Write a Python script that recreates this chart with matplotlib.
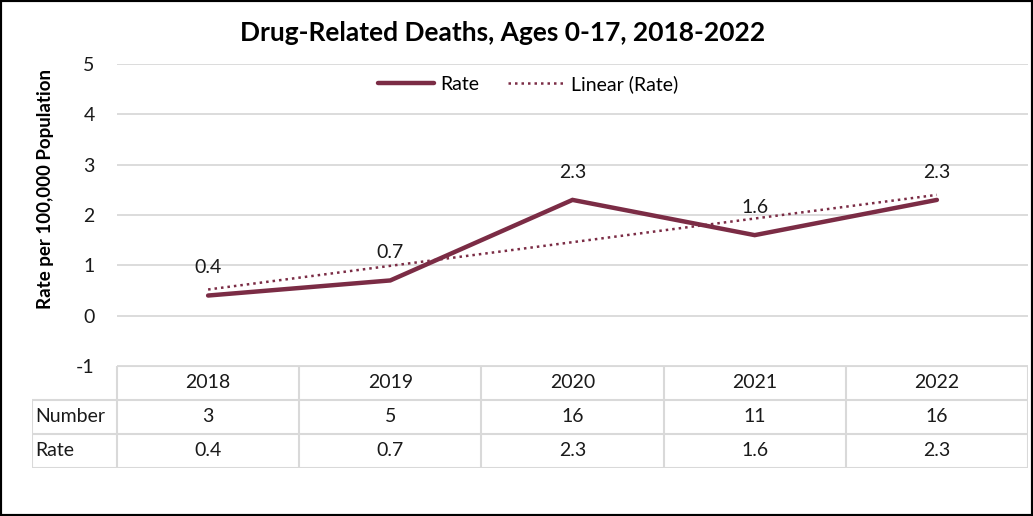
import matplotlib.pyplot as plt
import numpy as np
from matplotlib.patches import Rectangle

plt.rcParams['font.family'] = ['Lato', 'DejaVu Sans']
plt.rcParams['axes.unicode_minus'] = False

years = ['2018', '2019', '2020', '2021', '2022']
number = [3, 5, 16, 11, 16]
rate = [0.4, 0.7, 2.3, 1.6, 2.3]
row_names = ['Number', 'Rate']

maroon = '#7B2C45'
grid_c = '#D9D9D9'
txt_c = '#1a1a1a'
fs = 14

W, H = 1033, 516
fig = plt.figure(figsize=(W / 100, H / 100), dpi=100)

# plot area in pixels
L, R, T, B = 117, 1028, 64, 366
ax = fig.add_axes([L / W, 1 - B / H, (R - L) / W, (B - T) / H])

x = np.arange(len(years))
ax.plot(x, rate, color=maroon, lw=3.2, solid_capstyle='round',
        solid_joinstyle='miter', label='Rate', zorder=3)
k, b = np.polyfit(x, rate, 1)
ax.plot(x, k * x + b, color=maroon, lw=1.8, ls=(0, (1, 1.6)),
        label='Linear (Rate)', zorder=2)

for xi, v in zip(x, rate):
    ax.annotate(f'{v}', (xi, v), xytext=(0, 20), textcoords='offset points',
                ha='center', va='center', fontsize=fs, color=txt_c)

ax.set_xlim(-0.5, len(years) - 0.5)
ax.set_ylim(-1, 5)
ax.set_yticks(range(-1, 6))
ax.set_xticks([])
ax.grid(axis='y', color=grid_c, lw=1.3)
ax.set_axisbelow(True)
for s in ax.spines.values():
    s.set_visible(False)
ax.tick_params(axis='y', length=0, pad=16, labelsize=fs, labelcolor=txt_c)
ax.set_ylabel('Rate per 100,000 Population', fontsize=13.5, fontweight='bold')
ax.yaxis.set_label_coords((54 - L) / (R - L), (B - 189) / (B - T))

ax.legend(loc='center', bbox_to_anchor=(0.451, 0.934), ncol=2,
          frameon=False, fontsize=fs, handlelength=2.9, columnspacing=1.5,
          handletextpad=0.3)

fig.text(503 / W, 1 - 33 / H, 'Drug-Related Deaths, Ages 0-17, 2018-2022',
         ha='center', va='center', fontsize=19, fontweight='bold')

# data table under the plot
TL, TB = 32, 468
unit = (R - L) / len(years)
tax = fig.add_axes([TL / W, 1 - TB / H, (R - TL) / W, (TB - B) / H])
x0 = -0.5 - (L - TL) / unit
tax.set_xlim(x0, len(years) - 0.5)
tax.set_ylim(3, 0)
tax.axis('off')
tax.hlines(0, -0.5, len(years) - 0.5, color=grid_c, lw=1.5)
tax.hlines([1, 2, 3], x0, len(years) - 0.5, color=grid_c, lw=1.5)
tax.vlines(x0, 1, 3, color=grid_c, lw=1.5)
tax.vlines(np.arange(len(years) + 1) - 0.5, 0, 3, color=grid_c, lw=1.5)
for i, yr in enumerate(years):
    tax.text(i, 0.5, yr, ha='center', va='center', fontsize=fs, color=txt_c)
    tax.text(i, 1.5, str(number[i]), ha='center', va='center', fontsize=fs, color=txt_c)
    tax.text(i, 2.5, f'{rate[i]}', ha='center', va='center', fontsize=fs, color=txt_c)
for j, name in enumerate(row_names):
    tax.text(x0 + 0.02, 1.5 + j, name, ha='left', va='center', fontsize=fs, color=txt_c)

fig.patches.append(Rectangle((0, 0), 1, 1, transform=fig.transFigure,
                             fill=False, edgecolor='black', lw=3, zorder=10))

fig.savefig('out.png', dpi=100)
